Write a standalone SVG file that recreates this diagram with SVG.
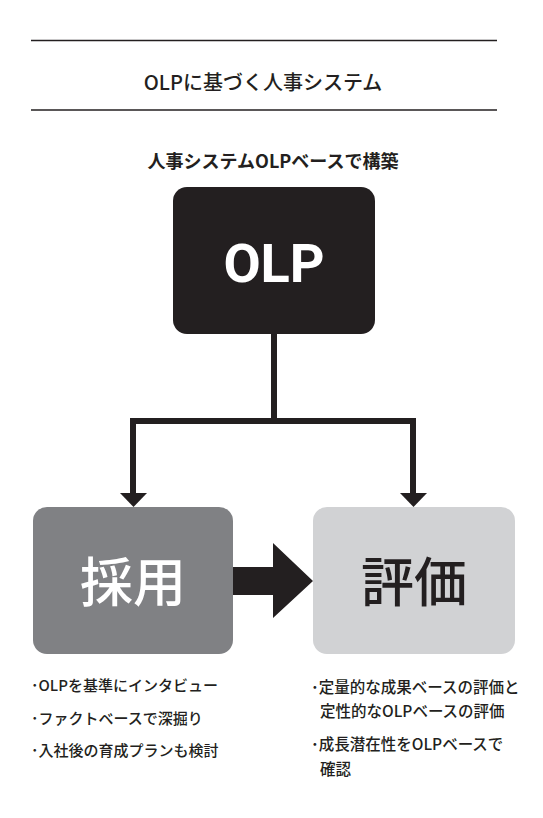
<svg xmlns="http://www.w3.org/2000/svg" width="543" height="818" viewBox="0 0 543 818">
<defs>
<style>
text{font-family:"Noto Sans CJK JP","Noto Sans",sans-serif;fill:#231f20}
.title{font-size:20px;font-weight:500}
.sub{font-size:18px;font-weight:700}
.big{font-weight:500;text-anchor:middle}
.olp{font-family:Roboto,"Noto Sans CJK JP",sans-serif;font-weight:700;text-anchor:middle}
.bl{font-size:15px;font-weight:500}
.br{font-size:15.5px;font-weight:500}
.rule{stroke:#231f20;stroke-width:1.3}
.conn{fill:none;stroke:#231f20;stroke-width:6}
.head{fill:#231f20}
</style>
</defs>
<rect width="543" height="818" fill="#ffffff"/>
<line class="rule" x1="31" y1="40.5" x2="497" y2="40.5"/>
<line class="rule" x1="31" y1="110" x2="497" y2="110"/>
<text class="title" x="263" y="90" text-anchor="middle">OLPに基づく人事システム</text>
<text class="sub" x="273" y="168" text-anchor="middle">人事システムOLPベースで構築</text>
<g id="connectors">
<path class="conn" d="M274,333 V421 M133,421 H413 M133,418 V495 M413,418 V495"/>
<polygon class="head" points="120,493 147,493 133.5,507"/>
<polygon class="head" points="400,493 427,493 413.5,507"/>
<polygon class="head" points="233,567 273,567 273,543 313,581 273,618 273,595 233,595"/>
</g>
<g id="olp">
<rect x="173" y="187" width="202" height="147" rx="14" fill="#231f20"/>
<text class="olp" x="274" y="282" font-size="54" style="fill:#ffffff">OLP</text>
</g>
<g id="saiyo">
<rect x="33" y="507" width="200" height="147" rx="14" fill="#808184"/>
<text class="big" x="133" y="602" font-size="53" style="fill:#ffffff">採用</text>
</g>
<g id="hyoka">
<rect x="313" y="507" width="202" height="147" rx="14" fill="#d1d2d4"/>
<text class="big" x="414" y="602" font-size="53">評価</text>
</g>
<g id="notes-left">
<text class="bl" x="31" y="691">･OLPを基準にインタビュー</text>
<text class="bl" x="31" y="724">･ファクトベースで深掘り</text>
<text class="bl" x="31" y="756">･入社後の育成プランも検討</text>
</g>
<g id="notes-right">
<text class="br" x="311" y="693">･定量的な成果ベースの評価と</text>
<text class="br" x="320" y="717">定性的なOLPベースの評価</text>
<text class="br" x="311" y="750">･成長潜在性をOLPベースで</text>
<text class="br" x="320" y="775">確認</text>
</g>
</svg>
